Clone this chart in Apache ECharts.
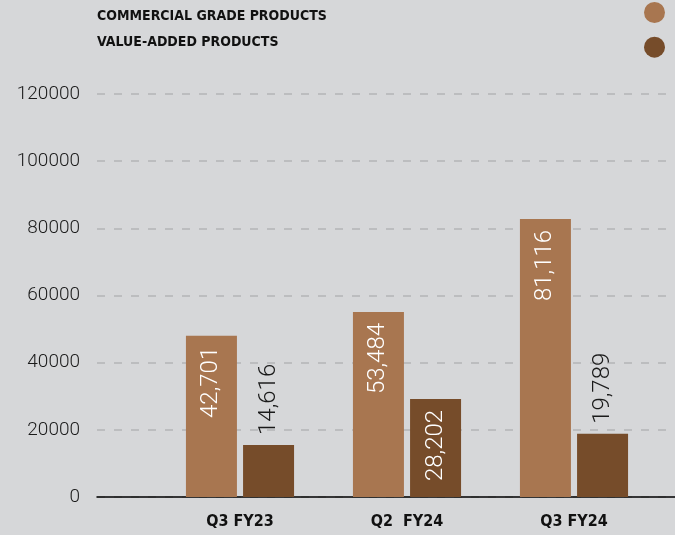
<!DOCTYPE html>
<html>
<head>
<meta charset="utf-8">
<script src="https://cdn.jsdelivr.net/npm/echarts@6/dist/echarts.min.js"></script>
<style>
  html, body { margin: 0; padding: 0; background: #d6d7d9; }
  #myChart { width: 675px; height: 535px; }
</style>
</head>
<body>
<div id="myChart"></div>
<script>
const quarters = ['Q3 FY23', 'Q2  FY24', 'Q3 FY24'];
const seriesNames = ['COMMERCIAL GRADE PRODUCTS', 'VALUE-ADDED PRODUCTS'];
// bar heights
const commercialValues = [48000, 55100, 82800];
const valueAddedValues = [15500, 29200, 18800];
// the numbers printed on the bars
const commercialLabels = ['42,701', '53,484', '81,116'];
const valueAddedLabels = ['14,616', '28,202', '19,789'];
const yTicks = { min: 0, max: 120000, interval: 20000 };

const lightColor = '#a87650';
const darkColor = '#764c2a';

const insideLabel = {
  show: true,
  position: 'insideTop',
  rotate: 90,
  align: 'right',
  verticalAlign: 'middle',
  distance: 11,
  color: '#ffffff',
  fontFamily: 'Roboto',
  fontWeight: 300,
  fontSize: 24
};
const outsideLabel = {
  show: true,
  position: 'top',
  rotate: 90,
  align: 'left',
  verticalAlign: 'middle',
  distance: 10,
  color: '#1a1a1a',
  fontFamily: 'Roboto',
  fontWeight: 300,
  fontSize: 24
};

const headFont = {
  fontFamily: 'DejaVu Sans Condensed',
  fontWeight: 'bold',
  color: '#111111'
};

let myChart = echarts.init(document.getElementById('myChart'));

let option = {
  backgroundColor: '#d6d7d9',
  animation: false,
  legend: [
    {
      // names on the left, no icon
      orient: 'vertical',
      left: 92,
      top: 9,
      padding: 0,
      icon: 'none',
      itemWidth: 0,
      itemHeight: 15,
      itemGap: 11.6,
      selectedMode: false,
      data: seriesNames,
      textStyle: Object.assign({ fontSize: 14 }, headFont)
    },
    {
      // round markers on the right
      orient: 'vertical',
      left: 644,
      top: 2,
      padding: 0,
      icon: 'circle',
      itemWidth: 21,
      itemHeight: 21,
      itemGap: 13.7,
      selectedMode: false,
      data: seriesNames,
      formatter: () => ''
    }
  ],
  grid: [
    { left: 97, right: 0, top: 94, bottom: 38 },
    { left: 156.5, right: 17.5, top: 94, bottom: 38 }
  ],
  xAxis: [
    {
      gridIndex: 0,
      type: 'category',
      data: [''],
      axisLine: { lineStyle: { color: '#000000', width: 1.5 } },
      axisTick: { show: false },
      axisLabel: { show: false }
    },
    {
      gridIndex: 1,
      type: 'category',
      data: quarters,
      axisLine: { show: false },
      axisTick: { show: false },
      axisLabel: Object.assign({ margin: 17, fontSize: 16 }, headFont)
    }
  ],
  yAxis: [
    {
      gridIndex: 0,
      type: 'value',
      min: yTicks.min,
      max: yTicks.max,
      interval: yTicks.interval,
      axisLine: { show: false },
      axisTick: { show: false },
      axisLabel: {
        margin: 17,
        padding: [6, 0, 0, 0],
        color: '#1a1a1a',
        fontFamily: 'Roboto',
        fontWeight: 300,
        fontSize: 19,
        formatter: v => String(v)
      },
      splitLine: {
        lineStyle: { color: '#b4b5b7', width: 1.5, type: [8, 9] }
      }
    },
    {
      gridIndex: 1,
      type: 'value',
      min: yTicks.min,
      max: yTicks.max,
      interval: yTicks.interval,
      show: false,
      splitLine: { show: false }
    }
  ],
  series: [
    {
      name: seriesNames[0],
      type: 'bar',
      xAxisIndex: 1,
      yAxisIndex: 1,
      barWidth: 51,
      barGap: '12%',
      itemStyle: { color: lightColor },
      label: Object.assign({}, insideLabel, {
        formatter: p => commercialLabels[p.dataIndex]
      }),
      data: commercialValues
    },
    {
      name: seriesNames[1],
      type: 'bar',
      xAxisIndex: 1,
      yAxisIndex: 1,
      barWidth: 51,
      barGap: '12%',
      itemStyle: { color: darkColor },
      label: Object.assign({}, outsideLabel, {
        formatter: p => valueAddedLabels[p.dataIndex]
      }),
      data: valueAddedValues.map((v, i) => i === 1 ? { value: v, label: insideLabel } : v)
    }
  ]
};

myChart.setOption(option);
</script>
</body>
</html>
